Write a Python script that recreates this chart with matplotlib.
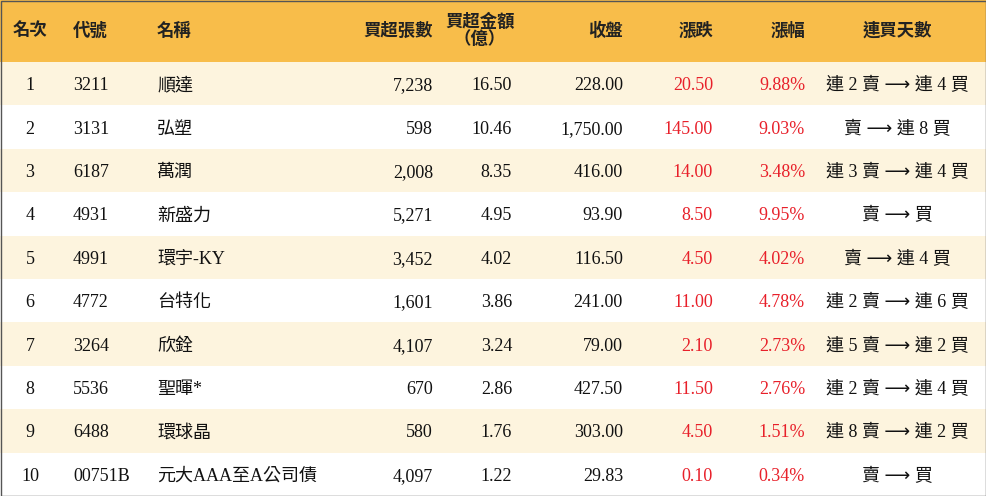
import matplotlib
matplotlib.use("Agg")
import matplotlib.pyplot as plt
from matplotlib.patches import Rectangle

ranks = ["1","2","3","4","5","6","7","8","9","10"]
codes = ["3211","3131","6187","4931","4991","4772","3264","5536","6488","00751B"]
names = ["順達","弘塑","萬潤","新盛力","環宇-KY","台特化","欣銓","聖暉*","環球晶","元大AAA至A公司債"]
net_lots = ["7,238","598","2,008","5,271","3,452","1,601","4,107","670","580","4,097"]
net_amount = ["16.50","10.46","8.35","4.95","4.02","3.86","3.24","2.86","1.76","1.22"]
close = ["228.00","1,750.00","416.00","93.90","116.50","241.00","79.00","427.50","303.00","29.83"]
change = ["20.50","145.00","14.00","8.50","4.50","11.00","2.10","11.50","4.50","0.10"]
pct = ["9.88%","9.03%","3.48%","9.95%","4.02%","4.78%","2.73%","2.76%","1.51%","0.34%"]
streak = ["連 2 賣 ⟶ 連 4 買","賣 ⟶ 連 8 買","連 3 賣 ⟶ 連 4 買","賣 ⟶ 買","賣 ⟶ 連 4 買",
          "連 2 賣 ⟶ 連 6 買","連 5 賣 ⟶ 連 2 買","連 2 賣 ⟶ 連 4 買","連 8 賣 ⟶ 連 2 買","賣 ⟶ 買"]
headers = ["名次","代號","名稱","買超張數","買超金額\n（億）","收盤","漲跌","漲幅","連買天數"]

W, H = 986, 496
fig = plt.figure(figsize=(W/100, H/100), dpi=100)
ax = fig.add_axes([0, 0, 1, 1])
ax.set_xlim(0, W); ax.set_ylim(H, 0); ax.axis("off")
fam = ["Liberation Serif", "Noto Sans CJK TC", "DejaVu Sans"]
hdr_h = 62
row_h = (H - hdr_h) / 10
ax.add_patch(Rectangle((0, 0), W, hdr_h, color="#f8bd4a", lw=0))
for i in range(10):
    y = hdr_h + i*row_h
    ax.add_patch(Rectangle((0, y), W, row_h, color="#fdf4de" if i % 2 == 0 else "white", lw=0))
ax.add_patch(Rectangle((0.5, 0.5), W-1, H-1, fill=False, ec="#555555", lw=1))

cols = [(30,"center"),(73,"left"),(157,"left"),(433,"right"),(512,"right"),(623,"right"),(713,"right"),(805,"right"),(897,"center")]
hx = [(30,"center"),(73,"left"),(157,"left"),(433,"right"),(480,"center"),(623,"right"),(713,"right"),(805,"right"),(897,"center")]
for (x, ha), t in zip(hx, headers):
    ax.text(x, hdr_h/2, t, ha=ha, va="center", fontsize=12.5, family=fam, color="#222222",
            linespacing=1.0, fontweight="bold")
data = [ranks, codes, names, net_lots, net_amount, close, change, pct, streak]
red = "#e8202a"
for i in range(10):
    y = hdr_h + (i+0.5)*row_h
    for j, ((x, ha), col) in enumerate(zip(cols, data)):
        c = red if j in (6, 7) else "#111111"
        ax.text(x, y, col[i], ha=ha, va="center_baseline", fontsize=13, family=fam, color=c)
fig.savefig("out.png", dpi=100)
